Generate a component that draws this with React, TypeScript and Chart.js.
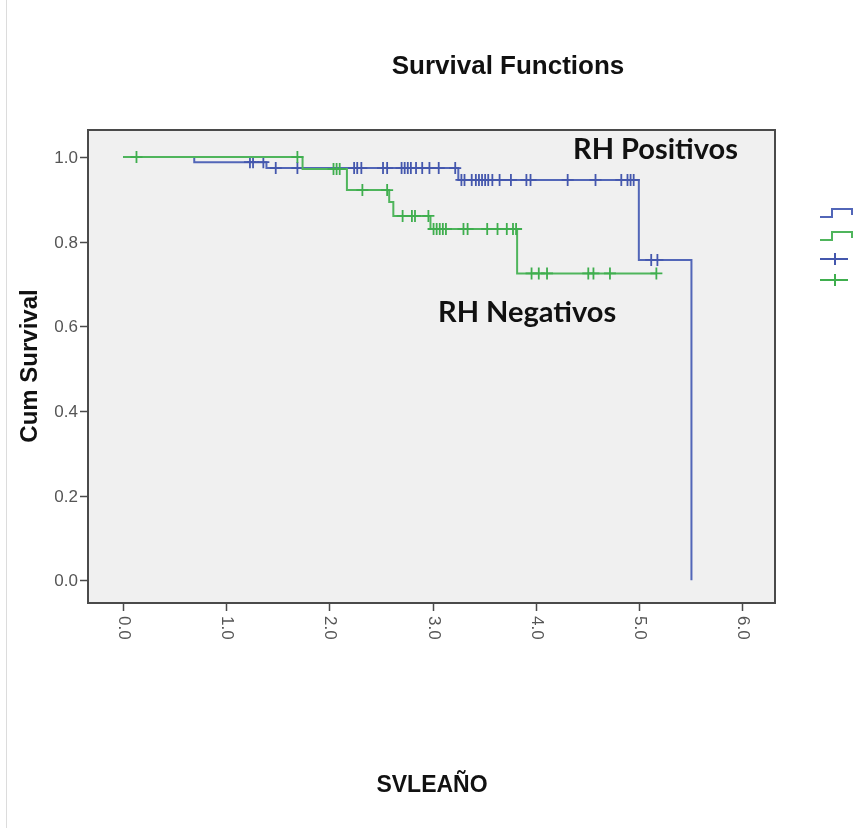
import React, { useEffect, useRef } from 'react';
import { Chart, registerables } from 'chart.js';

Chart.register(...registerables);

// ---- data ----
const xTickValues = [0, 1, 2, 3, 4, 5, 6];
const xTickLabels = ['0.0', '1.0', '2.0', '3.0', '4.0', '5.0', '6.0'];
const yTickValues = [0, 0.2, 0.4, 0.6, 0.8, 1.0];
const yTickLabels = ['0.0', '0.2', '0.4', '0.6', '0.8', '1.0'];

// RH Positivos (blue) – Kaplan-Meier steps
const posEventTimes = [0, 0.69, 1.39, 3.25, 5.0, 5.51];
const posSurvival = [1.0, 0.988, 0.974, 0.946, 0.757, 0.0];
const posCensorTimes = [
  1.23, 1.26, 1.36, 1.48, 1.69,
  2.24, 2.27, 2.31, 2.52, 2.56, 2.70, 2.73, 2.76, 2.79, 2.84, 2.90, 2.97, 3.06, 3.22,
  3.28, 3.31, 3.38, 3.42, 3.45, 3.48, 3.51, 3.54, 3.58, 3.65, 3.76, 3.91, 3.95,
  4.31, 4.58, 4.83, 4.89, 4.92, 4.95,
  5.12, 5.18,
];

// RH Negativos (green)
const negEventTimes = [0, 1.74, 2.17, 2.58, 2.62, 2.98, 3.82, 5.17];
const negSurvival = [1.0, 0.972, 0.922, 0.894, 0.861, 0.83, 0.725, 0.725];
const negCensorTimes = [
  0.13, 1.69,
  2.04, 2.07, 2.10,
  2.32, 2.56,
  2.71, 2.80, 2.83, 2.96,
  3.01, 3.04, 3.07, 3.10, 3.13, 3.30, 3.34, 3.53, 3.63, 3.72, 3.78, 3.81,
  3.96, 4.03, 4.11, 4.51, 4.56, 4.72, 5.17,
];

const seriesNames = ['RH Positivos', 'RH Negativos'];

const BLUE = '#5266b8';
const BLUE_MARK = '#4457ad';
const GREEN = '#4fb55c';
const GREEN_MARK = '#3fae4e';

function survivalAt(times: number[], surv: number[], t: number) {
  let s = surv[0];
  for (let i = 0; i < times.length; i++) if (times[i] <= t) s = surv[i];
  return s;
}

const decorPlugin = {
  id: 'decor',
  beforeDraw(chart: any) {
    const { ctx, chartArea: a } = chart;
    ctx.save();
    ctx.fillStyle = '#ffffff';
    ctx.fillRect(0, 0, chart.width, chart.height);
    ctx.fillStyle = '#f0f0f0';
    ctx.fillRect(a.left, a.top, a.right - a.left, a.bottom - a.top);
    // faint page edge
    ctx.strokeStyle = '#dcdcdc';
    ctx.lineWidth = 1;
    ctx.beginPath();
    ctx.moveTo(6.5, 0);
    ctx.lineTo(6.5, chart.height);
    ctx.stroke();
    ctx.restore();
  },
  afterDraw(chart: any) {
    const { ctx, chartArea: a, scales } = chart;
    const xs = scales.x;
    const ys = scales.y;
    ctx.save();
    // frame
    ctx.strokeStyle = '#4a4a4a';
    ctx.lineWidth = 2;
    ctx.strokeRect(a.left, a.top, a.right - a.left, a.bottom - a.top);

    // y ticks
    ctx.lineWidth = 1.5;
    ctx.fillStyle = '#555555';
    ctx.font = '17px "Liberation Sans", Arial, sans-serif';
    ctx.textAlign = 'right';
    ctx.textBaseline = 'middle';
    yTickValues.forEach((v, i) => {
      const y = Math.round(ys.getPixelForValue(v)) + 0.5;
      ctx.beginPath();
      ctx.moveTo(a.left - 8, y);
      ctx.lineTo(a.left, y);
      ctx.stroke();
      ctx.fillText(yTickLabels[i], a.left - 10, y + 1);
    });

    // x ticks (labels rotated clockwise)
    xTickValues.forEach((v, i) => {
      const x = Math.round(xs.getPixelForValue(v)) + 0.5;
      ctx.beginPath();
      ctx.moveTo(x, a.bottom);
      ctx.lineTo(x, a.bottom + 8);
      ctx.stroke();
      ctx.save();
      ctx.translate(x, a.bottom + 13);
      ctx.rotate(Math.PI / 2);
      ctx.textAlign = 'left';
      ctx.textBaseline = 'middle';
      ctx.fillText(xTickLabels[i], 0, 0);
      ctx.restore();
    });

    // titles
    ctx.fillStyle = '#111111';
    ctx.textAlign = 'center';
    ctx.textBaseline = 'alphabetic';
    ctx.font = 'bold 26px "Liberation Sans", Arial, sans-serif';
    ctx.fillText('Survival Functions', 508, 74);
    ctx.font = 'bold 23px "Liberation Sans", Arial, sans-serif';
    ctx.fillText('SVLEAÑO', 432, 792);
    ctx.save();
    ctx.translate(37, 366);
    ctx.rotate(-Math.PI / 2);
    ctx.font = 'bold 24px "Liberation Sans", Arial, sans-serif';
    ctx.fillText('Cum Survival', 0, 0);
    ctx.restore();

    // annotations
    ctx.textAlign = 'left';
    ctx.font = 'bold 29px Lato, "Open Sans", sans-serif';
    ctx.fillStyle = '#111111';
    ctx.fillText(seriesNames[0], 573, 159);
    ctx.fillText(seriesNames[1], 438, 322);

    // legend symbols (right side)
    const drawStep = (y: number, color: string) => {
      ctx.strokeStyle = color;
      ctx.lineWidth = 2;
      ctx.beginPath();
      ctx.moveTo(820, y + 8);
      ctx.lineTo(832, y + 8);
      ctx.lineTo(832, y);
      ctx.lineTo(852, y);
      ctx.lineTo(852, y + 6);
      ctx.stroke();
    };
    const drawCross = (y: number, color: string) => {
      ctx.strokeStyle = color;
      ctx.lineWidth = 2;
      ctx.beginPath();
      ctx.moveTo(820, y);
      ctx.lineTo(848, y);
      ctx.moveTo(835, y - 6);
      ctx.lineTo(835, y + 6);
      ctx.stroke();
    };
    drawStep(209, BLUE);
    drawStep(232, GREEN);
    drawCross(259, BLUE_MARK);
    drawCross(280, GREEN_MARK);
    ctx.restore();
  },
};

export default function App() {
  const canvasRef = useRef<HTMLCanvasElement | null>(null);

  useEffect(() => {
    if (!canvasRef.current) return;
    const posCurve = posEventTimes.map((t, i) => ({ x: t, y: posSurvival[i] }));
    const negCurve = negEventTimes.map((t, i) => ({ x: t, y: negSurvival[i] }));
    const posMarks = posCensorTimes.map((t) => ({ x: t, y: survivalAt(posEventTimes, posSurvival, t) }));
    const negMarks = negCensorTimes.map((t) => ({ x: t, y: survivalAt(negEventTimes, negSurvival, t) }));

    const chart = new Chart(canvasRef.current, {
      type: 'scatter',
      data: {
        datasets: [
          {
            label: seriesNames[1] + ' censored',
            data: negMarks,
            showLine: false,
            pointStyle: 'cross',
            pointRadius: 6,
            pointBorderWidth: 1.8,
            borderColor: GREEN_MARK,
            backgroundColor: GREEN_MARK,
          },
          {
            label: seriesNames[1],
            data: negCurve,
            showLine: true,
            stepped: true,
            pointRadius: 0,
            borderWidth: 2,
            borderColor: GREEN,
            backgroundColor: GREEN,
            fill: false,
          },
          {
            label: seriesNames[0] + ' censored',
            data: posMarks,
            showLine: false,
            pointStyle: 'cross',
            pointRadius: 6,
            pointBorderWidth: 1.8,
            borderColor: BLUE_MARK,
            backgroundColor: BLUE_MARK,
          },
          {
            label: seriesNames[0],
            data: posCurve,
            showLine: true,
            stepped: true,
            pointRadius: 0,
            borderWidth: 2,
            borderColor: BLUE,
            backgroundColor: BLUE,
            fill: false,
          },
        ] as any,
      },
      options: {
        animation: false,
        responsive: true,
        maintainAspectRatio: false,
        layout: { padding: { left: 88, top: 130, right: 82, bottom: 225 } },
        scales: {
          x: { type: 'linear', display: false, min: -0.34, max: 6.32 },
          y: { type: 'linear', display: false, min: -0.054, max: 1.064 },
        },
        plugins: {
          legend: { display: false },
          tooltip: { enabled: false },
        },
      } as any,
      plugins: [decorPlugin],
    });
    return () => chart.destroy();
  }, []);

  return (
    <div style={{ position: 'fixed', left: 0, top: 0, width: 857, height: 828, background: '#fff' }}>
      <canvas ref={canvasRef} />
    </div>
  );
}
